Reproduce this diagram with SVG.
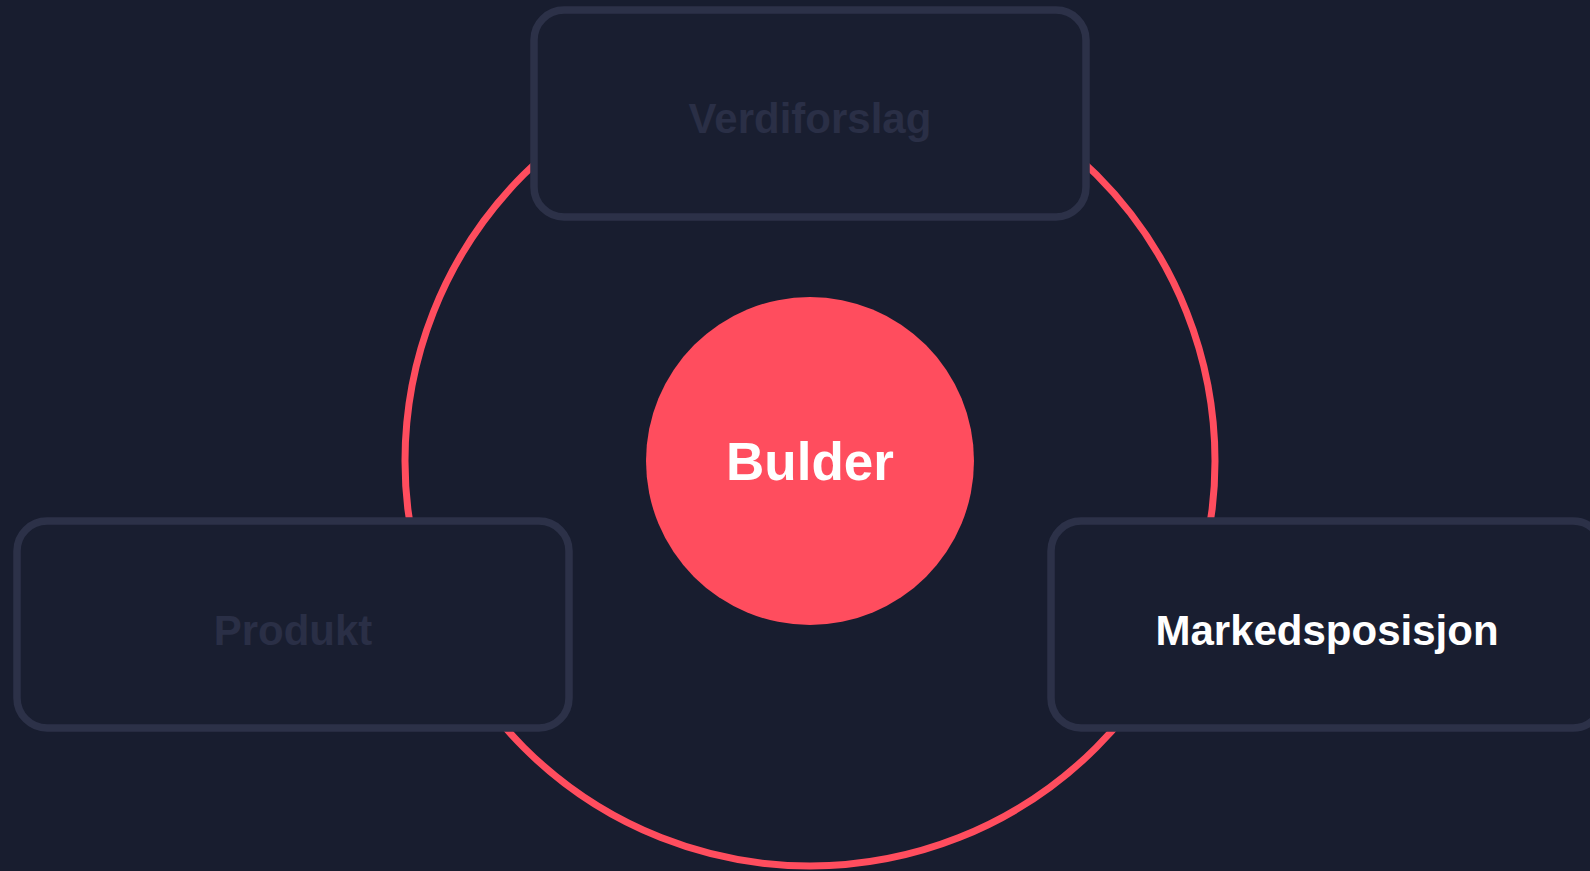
<svg xmlns="http://www.w3.org/2000/svg" width="1590" height="871" viewBox="0 0 1590 871">
<style>
.box{fill:#191e30;stroke:#2c3148;stroke-width:7.5}
.lbl{font-family:"Liberation Sans",Arial,sans-serif;font-weight:bold;font-size:42px;text-anchor:middle}
.dim{fill:#2a2f46}
.on{fill:#ffffff}
</style>
<rect width="1590" height="871" fill="#181d2f"/>
<g id="connectors">
<circle cx="810" cy="461" r="405" fill="none" stroke="#ff4d5e" stroke-width="7"/>
</g>
<g id="node-verdiforslag">
<rect class="box" x="534" y="10" width="552" height="207" rx="30"/>
<text class="lbl dim" x="810" y="133">Verdiforslag</text>
</g>
<g id="node-produkt">
<rect class="box" x="17" y="521" width="552" height="207" rx="30"/>
<text class="lbl dim" x="293" y="645">Produkt</text>
</g>
<g id="node-markedsposisjon">
<rect class="box" x="1051" y="521" width="552" height="207" rx="30"/>
<text class="lbl on" x="1327" y="645">Markedsposisjon</text>
</g>
<g id="node-bulder">
<circle cx="810" cy="461" r="164" fill="#ff4d5e"/>
<text class="lbl on" x="810" y="480" style="font-size:53px">Bulder</text>
</g>
</svg>
